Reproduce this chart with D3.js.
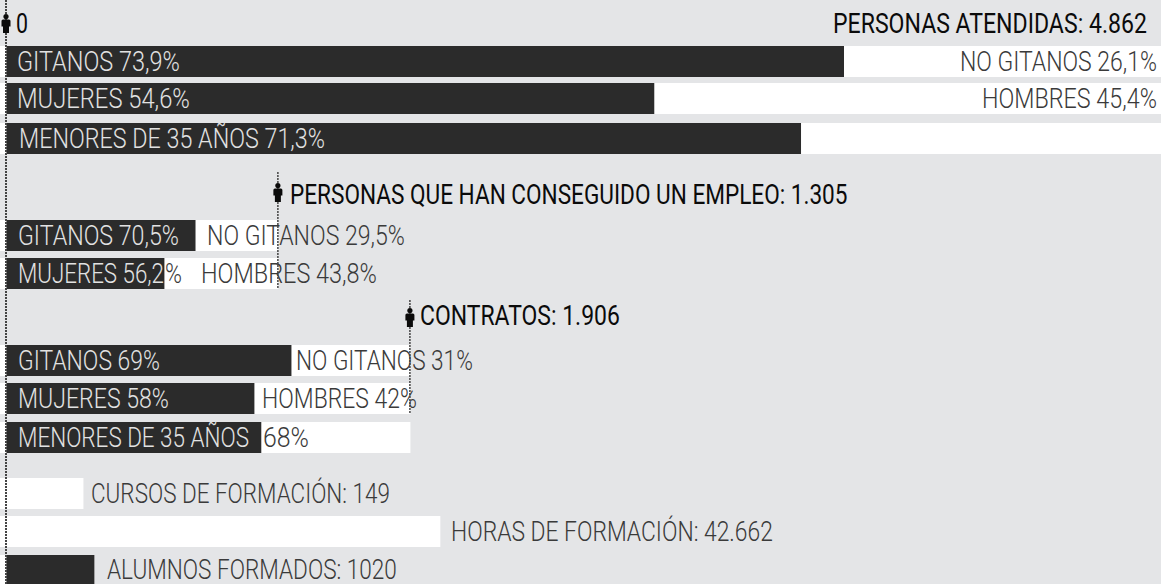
<!DOCTYPE html>
<html><head><meta charset="utf-8">
<script src="https://cdn.jsdelivr.net/npm/d3@7/dist/d3.min.js"></script>
<style>html,body{margin:0;padding:0;background:#e4e5e7;overflow:hidden}
text{font-family:"Roboto",sans-serif}</style></head>
<body><div id="chart"></div>
<script>
// Row identifiers, top to bottom
const rows = ["at1","at2","at3","em1","em2","co1","co2","co3","fo1","fo2","fo3"];
// Bar lengths, in the units of the top scale (4.862 = full width)
const darkValues  = [3527, 2728, 3346, 796, 665, 1200, 1044, 1073, 0, 0, 370];
const whiteValues = [4862, 4862, 4862, 1145, 1145, 1701, 1701, 1701, 324, 1827, 0];
const rowLabelsLeft = ["GITANOS 73,9%","MUJERES 54,6%","MENORES DE 35 AÑOS 71,3%","GITANOS 70,5%","MUJERES 56,2","GITANOS 69%","MUJERES 58%","MENORES DE 35 AÑOS","","",""];
const rowLabelsRight = ["NO GITANOS 26,1%","HOMBRES 45,4%","","NO GITANOS 29,5%","HOMBRES 43,8%","NO GITANOS 31%","HOMBRES 42%","68%","CURSOS DE FORMACIÓN: 149","HORAS DE FORMACIÓN: 42.662","ALUMNOS FORMADOS: 1020"];
const overflowLabel = "%";
const headings = ["0","PERSONAS ATENDIDAS: 4.862","PERSONAS QUE HAN CONSEGUIDO UN EMPLEO: 1.305","CONTRATOS: 1.906"];
const markerValues = [0, 1145, 1701];

const W = 1161, H = 584;
const svg = d3.select("#chart").append("svg").attr("width",W).attr("height",H).style("display","block");
svg.append("rect").attr("width",W).attr("height",H).attr("fill","#e4e5e7");

const x = d3.scaleLinear().domain([0,4862]).range([6.5,1161]);
const y = d3.scaleOrdinal().domain(rows).range([46,83,123,220,258,345,383,422,478,516,555]);
const barH = 31, DARK = "#2b2b2b", FS = 27;

const leftX = [17,17,19,18,18,18,18,18];
const leftW = [163,173,306,161,146,142,151,231];
const rightX = [960,982,0,207,201,296,262,263,91,451,107];
const rightW = [197,175,0,198,176,177,155,46,299,322,290];
const headX = [16,833,290,420], headY = [33,33,204,325], headW = [12,314,558,200];

// the reference face is condensed: squeeze Roboto horizontally to the measured width
function label(txt,xp,yp,fill,len,weight){
  const t = svg.append("text").attr("fill",fill)
    .attr("font-size",FS).attr("font-weight",weight||300).text(txt);
  const sx = len / t.node().getComputedTextLength();
  t.attr("transform",`translate(${xp},${yp}) scale(${sx},1)`);
  return t;
}

svg.selectAll("rect.w").data(rows).join("rect").attr("class","w")
  .attr("x",0).attr("y",d=>y(d)).attr("height",barH)
  .attr("width",(d,i)=>x(whiteValues[i])).attr("fill","#fff");

svg.selectAll("rect.d").data(rows).join("rect").attr("class","d")
  .attr("x",x(0)).attr("y",d=>y(d)).attr("height",barH)
  .attr("width",(d,i)=>darkValues[i]>0?x(darkValues[i])-x(0):0).attr("fill",DARK);

rowLabelsLeft.forEach((s,i)=>{ if(s) label(s,leftX[i],y(rows[i])+25,"#e2e2e2",leftW[i]); });
label(overflowLabel,165,y("em2")+25,"#3a3a3a",17);
rowLabelsRight.forEach((s,i)=>{ if(s) label(s,rightX[i],y(rows[i])+(i===10?24:25),"#3a3a3a",rightW[i]); });

// Dotted markers
const lineTop=[0,172,300], lineBot=[584,288,414];
markerValues.forEach((v,i)=>{
  svg.append("line").attr("x1",x(v)-0.5).attr("x2",x(v)-0.5).attr("y1",lineTop[i]).attr("y2",lineBot[i])
    .attr("stroke","#444").attr("stroke-width",i===0?2:1.5).attr("stroke-dasharray","2 1");
});

// Person icons
function person(cx,top){
  const g = svg.append("g").attr("transform",`translate(${cx},${top})`).attr("fill","#0b0b0b");
  g.append("circle").attr("cx",0).attr("cy",2.5).attr("r",2.6);
  g.append("path").attr("d","M-3,5.5 H3 Q4.5,5.5 4.5,7 V12.5 H3 V19 H-3 V12.5 H-4.5 V7 Q-4.5,5.5 -3,5.5 Z");
}
const iconTop = [14,183,308];
markerValues.forEach((v,i)=>person(x(v)-0.5,iconTop[i]));

// Headings
headings.forEach((s,i)=>label(s,headX[i],headY[i],"#0b0b0b",headW[i],400));
</script></body></html>
